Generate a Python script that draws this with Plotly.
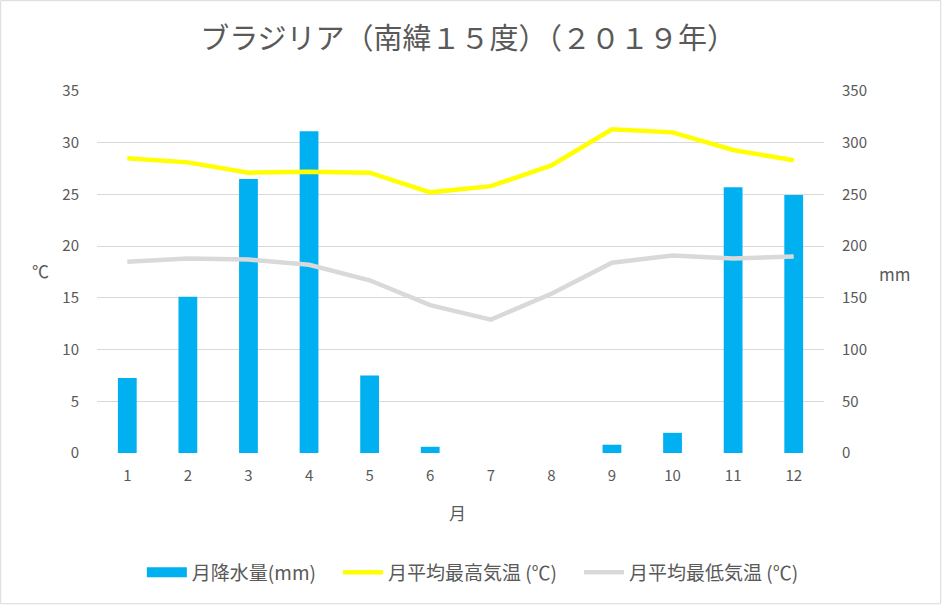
import plotly.graph_objects as go

months = ["1", "2", "3", "4", "5", "6", "7", "8", "9", "10", "11", "12"]
precip_mm = [72.5, 151, 265, 311, 75, 6, 0, 0, 8, 19.5, 257, 249.5]
tmax_c = [28.5, 28.1, 27.1, 27.2, 27.1, 25.2, 25.8, 27.8, 31.3, 31.0, 29.3, 28.3]
tmin_c = [18.5, 18.8, 18.7, 18.2, 16.7, 14.3, 12.9, 15.4, 18.4, 19.1, 18.8, 19.0]

FONT = "Noto Sans CJK JP"
GREY = "#595959"
BLUE = "#00B0F0"
PAD = "\u00a0" * 4

fig = go.Figure()
fig.add_trace(go.Bar(x=months, y=precip_mm, name="月降水量(mm)",
                     marker=dict(color=BLUE, line=dict(width=0)),
                     width=0.31, yaxis="y", showlegend=False, legendgroup="p"))
# legend entry drawn as a thick band, like the reference's wide swatch
fig.add_trace(go.Scatter(x=[months[0]], y=[None], name="月降水量(mm)" + PAD, mode="lines",
                         line=dict(color=BLUE, width=10), yaxis="y", legendgroup="p"))
fig.add_trace(go.Scatter(x=months, y=tmax_c, name="月平均最高気温 (℃)" + PAD, mode="lines",
                         line=dict(color="#FFFF00", width=4.5), yaxis="y2"))
fig.add_trace(go.Scatter(x=months, y=tmin_c, name="月平均最低気温 (℃)", mode="lines",
                         line=dict(color="#D9D9D9", width=4.5), yaxis="y2"))

fig.update_layout(
    width=942, height=605,
    margin=dict(l=97, r=118, t=91, b=152),
    paper_bgcolor="white", plot_bgcolor="white",
    font=dict(family=FONT, color=GREY, size=15),
    title=dict(text="ブラジリア（南緯１５度）（２０１９年）", x=0.497, xanchor="center",
               y=0.935, yanchor="middle",
               font=dict(family=FONT, size=29, color=GREY)),
    xaxis=dict(type="category", showgrid=False, zeroline=False, showline=False,
               ticks="", ticklabelstandoff=12, tickfont=dict(size=15, color=GREY)),
    yaxis=dict(range=[0, 350], dtick=50, side="right", showgrid=True,
               gridcolor="#D9D9D9", gridwidth=1, zeroline=False, showline=False,
               ticks="", ticklabelstandoff=17, tickfont=dict(size=15, color=GREY)),
    yaxis2=dict(range=[0, 35], dtick=5, side="left", overlaying="y", showgrid=False,
                zeroline=False, showline=False, ticks="", ticklabelstandoff=17,
                tickfont=dict(size=15, color=GREY)),
    legend=dict(orientation="h", x=0.517, xanchor="center", y=-0.33, yanchor="middle",
                font=dict(size=19, color=GREY), traceorder="normal", itemwidth=40),
    annotations=[
        dict(text="月", xref="paper", yref="paper", x=0.496, y=-0.165, showarrow=False,
             xanchor="center", yanchor="middle", font=dict(size=17, color=GREY)),
        dict(text="℃", xref="paper", yref="paper", x=-0.078, y=0.505, showarrow=False,
             xanchor="center", yanchor="middle", font=dict(size=17, color=GREY)),
        dict(text="mm", xref="paper", yref="paper", x=1.097, y=0.497, showarrow=False,
             xanchor="center", yanchor="middle", font=dict(size=17, color=GREY)),
    ],
    shapes=[dict(type="rect", xref="paper", yref="paper", x0=-0.1325, x1=1.1605,
                 y0=-0.4165, y1=1.2495, line=dict(color="#D9D9D9", width=1))],
)

fig.write_html("out.html", config={"displayModeBar": False},
               post_script="document.body.style.margin='0';")
